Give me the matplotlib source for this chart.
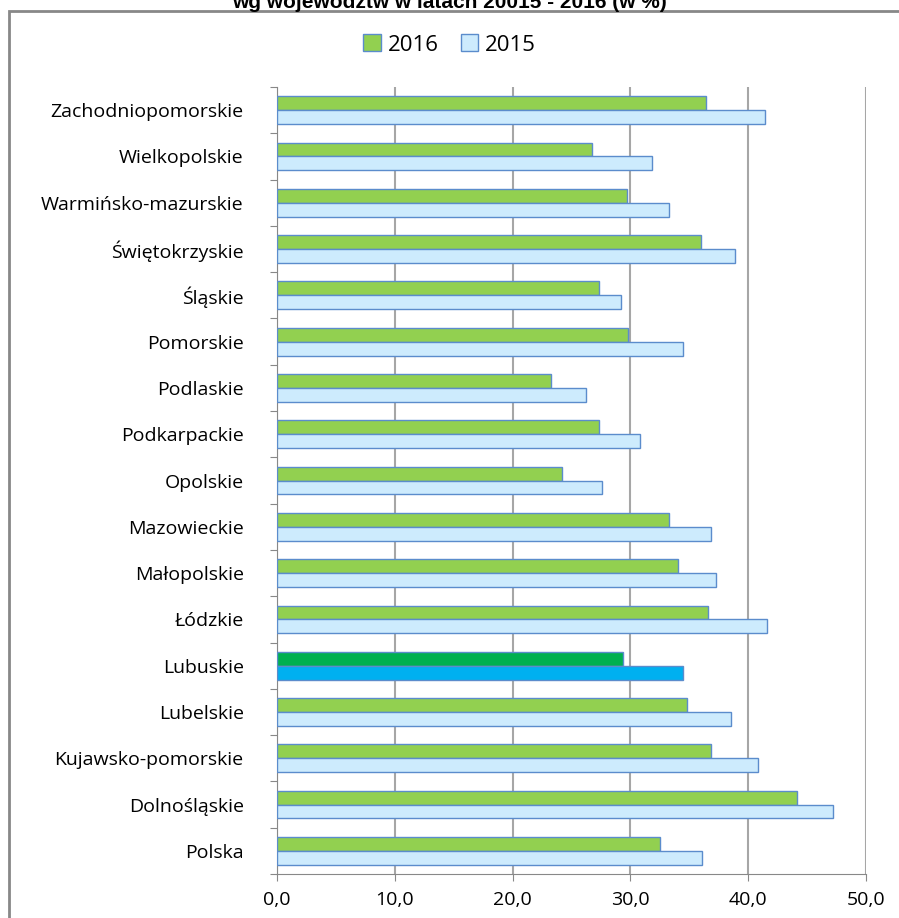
import matplotlib.pyplot as plt
from matplotlib.patches import Rectangle
import numpy as np

# categories from top to bottom, as in the picture
regions = ['Zachodniopomorskie', 'Wielkopolskie', 'Warmińsko-mazurskie',
           'Świętokrzyskie', 'Śląskie', 'Pomorskie', 'Podlaskie',
           'Podkarpackie', 'Opolskie', 'Mazowieckie', 'Małopolskie',
           'Łódzkie', 'Lubuskie', 'Lubelskie', 'Kujawsko-pomorskie',
           'Dolnośląskie', 'Polska']
v2016 = [36.4, 26.7, 29.7, 36.0, 27.3, 29.8, 23.3, 27.3, 24.2,
         33.3, 34.0, 36.6, 29.4, 34.8, 36.8, 44.1, 32.5]
v2015 = [41.4, 31.8, 33.3, 38.9, 29.2, 34.5, 26.2, 30.8, 27.6,
         36.8, 37.3, 41.6, 34.5, 38.5, 40.8, 47.2, 36.1]
highlight = 'Lubuskie'
xticks = [0, 10, 20, 30, 40, 50]
title = 'wg województw w latach 20015 - 2016 (w %)'

plt.rcParams['font.family'] = ['Open Sans', 'DejaVu Sans']

fig = plt.figure(figsize=(8.99, 9.18), dpi=100)
ax = fig.add_axes([0.3081, 0.0479, 0.6552, 0.8573])

n = len(regions)
y = np.arange(n)[::-1]
h = 0.30
g_col = ['#00b050' if r == highlight else '#92d050' for r in regions]
b_col = ['#00b0f0' if r == highlight else '#cdebfd' for r in regions]
ax.barh(y + h / 2, v2016, height=h, color=g_col, edgecolor='#5b8ccc',
        linewidth=1, label='2016', zorder=3)
ax.barh(y - h / 2, v2015, height=h, color=b_col, edgecolor='#5b8ccc',
        linewidth=1, label='2015', zorder=3)

ax.set_xlim(0, 50)
ax.set_ylim(-0.5, n - 0.5)
ax.set_xticks(xticks)
ax.set_xticklabels([('%.1f' % t).replace('.', ',') for t in xticks],
                   fontsize=14)
ax.tick_params(axis='x', length=5, color='#888888', pad=7)
ax.set_yticks(np.arange(n + 1) - 0.5)
ax.set_yticklabels([])
ax.tick_params(axis='y', which='major', length=5, color='#888888')
ax.set_yticks(y, minor=True)
ax.set_yticklabels(regions, minor=True, fontsize=14)
ax.tick_params(axis='y', which='minor', length=0, pad=24)
ax.grid(axis='x', color='#a6a6a6', linewidth=1.5, zorder=0)
for s in ['top', 'right']:
    ax.spines[s].set_visible(False)
for s in ['left', 'bottom']:
    ax.spines[s].set_color('#888888')

ax.legend(loc='center', bbox_to_anchor=(0.5, 1 - 45 / 918),
          bbox_transform=fig.transFigure, ncol=2, frameon=False,
          fontsize=16, handlelength=0.8, handleheight=0.8,
          handletextpad=0.3, columnspacing=1.0)

fig.patches.append(Rectangle((9 / 899, -0.1), 1.2, 1 - 11 / 918 + 0.1,
                             transform=fig.transFigure, fill=False,
                             edgecolor='#888888', linewidth=2))
fig.text(0.5, 1 - 8 / 918, title, ha='center', va='baseline',
         fontsize=15, fontweight='bold', family='Liberation Sans')

fig.savefig('out.png', dpi=100)
